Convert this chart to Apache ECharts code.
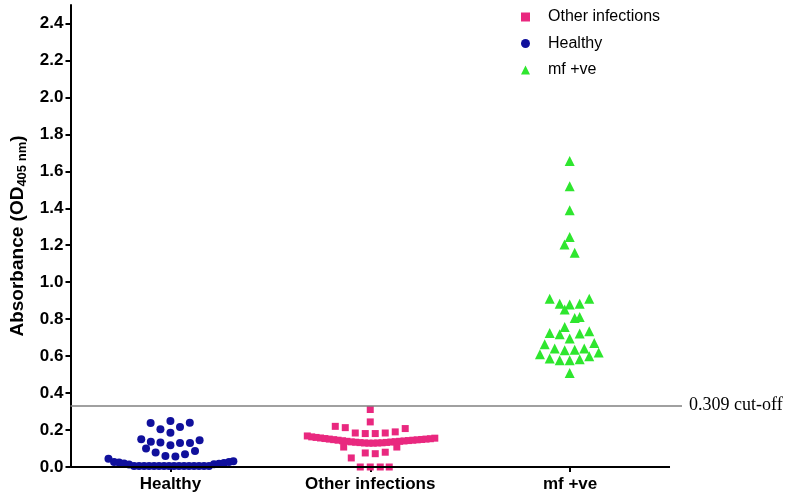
<!DOCTYPE html>
<html>
<head>
<meta charset="utf-8">
<script src="https://cdn.jsdelivr.net/npm/echarts@6/dist/echarts.min.js"></script>
<style>html,body{margin:0;padding:0;background:#fff}#c{width:789px;height:498px}</style>
</head>
<body>
<div id="c"></div>
<script>
var categories = ['Healthy', 'Other infections', 'mf +ve'];
var legendOrder = ['Other infections', 'Healthy', 'mf +ve'];
var yTicks = [0, 0.2, 0.4, 0.6, 0.8, 1.0, 1.2, 1.4, 1.6, 1.8, 2.0, 2.2, 2.4];
var cutoffValue = 0.334;
var cutoffLabel = '0.309 cut-off';

// horizontal swarm offsets (in category widths) and absorbance values
var healthyX = [-0.099,0.0,0.097,-0.05,0.048,0.0,
  -0.146,-0.098,-0.05,0.0,0.048,0.098,0.146,
  -0.122,-0.074,-0.025,0.025,0.073,0.123,
  -0.31,-0.282,-0.257,-0.232,-0.207,
  -0.182,-0.157,-0.132,-0.107,-0.082,-0.057,-0.032,-0.007,0.018,0.043,0.068,0.093,0.118,0.143,0.168,0.193,
  0.218,0.243,0.268,0.293,0.315];
var healthyY = [0.238,0.249,0.240,0.204,0.217,0.186,
  0.150,0.137,0.132,0.118,0.130,0.130,0.145,
  0.100,0.078,0.059,0.057,0.069,0.087,
  0.045,0.027,0.024,0.019,0.013,
  0.005,0.005,0.005,0.005,0.005,0.005,0.005,0.005,0.005,0.005,0.005,0.005,0.005,0.005,0.005,0.005,
  0.015,0.018,0.022,0.027,0.031];

var otherX = [0.0,0.0,
  -0.175,-0.125,-0.075,-0.025,0.025,0.075,0.125,0.175,
  -0.315,-0.293,-0.271,-0.249,-0.227,-0.205,-0.183,-0.161,-0.139,-0.117,-0.095,-0.073,-0.051,-0.029,-0.007,
  0.015,0.037,0.059,0.081,0.103,0.125,0.147,0.169,0.191,0.213,0.235,0.257,0.279,0.301,0.323,
  -0.133,0.133,
  -0.095,-0.025,0.025,0.075,
  -0.05,0.0,0.05,0.095];
var otherY = [0.311,0.244,
  0.220,0.213,0.184,0.181,0.181,0.184,0.190,0.208,
  0.168,0.163,0.160,0.157,0.154,0.151,0.148,0.145,0.142,0.139,0.136,0.134,0.132,0.130,0.129,
  0.129,0.130,0.131,0.133,0.135,0.137,0.139,0.141,0.143,0.145,0.147,0.149,0.151,0.153,0.156,
  0.108,0.108,
  0.049,0.076,0.072,0.080,
  0.0,0.0,0.0,0.0];

var mfX = [-0.002,-0.002,-0.002,-0.002,-0.028,0.023,
  -0.102,0.096,-0.052,-0.002,0.048,-0.027,0.023,0.048,-0.027,-0.102,-0.052,0.048,0.096,-0.002,
  -0.127,0.121,-0.077,-0.027,0.023,0.071,-0.151,0.143,-0.102,-0.052,-0.002,0.048,0.096,-0.002];
var mfY = [1.656,1.519,1.389,1.245,1.204,1.160,
  0.911,0.911,0.884,0.879,0.884,0.852,0.806,0.812,0.758,0.725,0.718,0.722,0.734,0.695,
  0.664,0.671,0.641,0.632,0.635,0.641,0.610,0.619,0.587,0.578,0.578,0.583,0.599,0.509];

function pts(gi, xs, ys) {
  return xs.map(function (dx, i) { return [gi + dx, ys[i]]; });
}

var FONT = 'Liberation Sans, Arial, sans-serif';
var chart = echarts.init(document.getElementById('c'), null, {renderer: 'canvas'});
chart.setOption({
  animation: false,
  backgroundColor: '#ffffff',
  grid: {left: 68, right: 107, top: 5, bottom: 31, containLabel: false},
  legend: {
    data: legendOrder,
    orient: 'vertical',
    left: 516, top: 4,
    itemWidth: 9, itemHeight: 9, itemGap: 10.5,
    textStyle: {fontFamily: FONT, fontSize: 16, color: '#000', padding: [0, 0, 0, 13]}
  },
  xAxis: {
    type: 'value', min: -0.5, max: 2.56,
    axisLine: {show: false},
    splitLine: {show: false},
    axisTick: {show: true, customValues: [0, 1, 2], length: 5, lineStyle: {color: '#000', width: 2}},
    axisLabel: {
      customValues: [0, 1, 2], margin: 9,
      formatter: function (v) { return categories[Math.round(v)]; },
      fontFamily: FONT, fontSize: 17, fontWeight: 'bold', color: '#000'
    }
  },
  yAxis: {
    type: 'value', min: 0, max: 2.5,
    axisLine: {show: true, onZero: false, lineStyle: {color: '#000', width: 2}},
    splitLine: {show: false},
    axisTick: {show: true, customValues: yTicks, length: 5, lineStyle: {color: '#000', width: 2}},
    axisLabel: {
      customValues: yTicks, margin: 7,
      formatter: function (v) { return v.toFixed(1); },
      fontFamily: FONT, fontSize: 17, fontWeight: 'bold', color: '#000'
    },
    name: '{a|Absorbance (OD}{s|405 nm}{a|)}',
    nameLocation: 'middle', nameGap: 42, nameRotate: 90,
    nameTextStyle: {
      rich: {
        a: {fontFamily: FONT, fontSize: 19, fontWeight: 'bold', color: '#000', lineHeight: 22},
        s: {fontFamily: FONT, fontSize: 13, fontWeight: 'bold', color: '#000', lineHeight: 12, verticalAlign: 'bottom'}
      }
    }
  },
  series: [
    {
      name: 'Healthy', type: 'scatter', clip: false,
      symbol: 'circle', symbolSize: 8,
      itemStyle: {color: '#10109c', opacity: 1},
      data: pts(0, healthyX, healthyY),
      markLine: {
        silent: true, symbol: ['none', 'none'], animation: false,
        label: {show: false},
        lineStyle: {color: '#000', width: 2, type: 'solid'},
        data: [[{coord: [-0.5, 0]}, {coord: [2.5, 0]}]]
      },
      z: 2
    },
    {
      name: 'Other infections', type: 'scatter', clip: false,
      symbol: 'rect', symbolSize: 7,
      itemStyle: {color: '#e9287f', opacity: 1},
      data: pts(1, otherX, otherY),
      markLine: {
        silent: true, symbol: ['none', 'none'], animation: false,
        lineStyle: {color: '#808080', width: 1.5, type: 'solid'},
        label: {show: true, position: 'end', distance: 7, formatter: cutoffLabel,
          fontFamily: 'Liberation Serif, Times New Roman, serif', fontSize: 18, color: '#000'},
        data: [[{coord: [-0.5, cutoffValue]}, {coord: [2.56, cutoffValue]}]]
      },
      z: 2
    },
    {
      name: 'mf +ve', type: 'scatter', clip: false,
      symbol: 'triangle', symbolSize: 10,
      itemStyle: {color: '#2ee62e', opacity: 1},
      data: pts(2, mfX, mfY),
      z: 2
    }
  ]
});
</script>
</body>
</html>
